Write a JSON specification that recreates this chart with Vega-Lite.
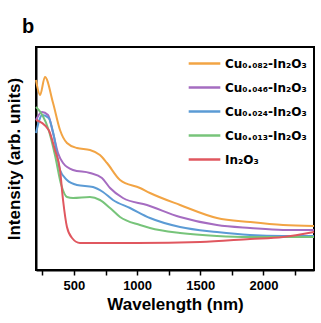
{
  "$schema": "https://vega.github.io/schema/vega-lite/v6.json",
  "autosize": "none",
  "width": 278,
  "height": 223,
  "padding": {"left": 36, "top": 47, "right": 7, "bottom": 53},
  "title": {"text": "b", "anchor": "start", "frame": "group", "dx": -14, "offset": 9, "fontSize": 20, "font": "Liberation Sans", "fontWeight": "bold", "color": "black"},
  "config": {
    "view": {"stroke": "black", "strokeWidth": 2},
    "font": "Liberation Sans",
    "axis": {"domainColor": "black", "domainWidth": 2, "tickColor": "black"}
  },
  "data": {"values": [
    {"s": "Cu₀.₀₈₂-In₂O₃", "wl": 200, "v": 190},
    {"s": "Cu₀.₀₈₂-In₂O₃", "wl": 232, "v": 175},
    {"s": "Cu₀.₀₈₂-In₂O₃", "wl": 271, "v": 193},
    {"s": "Cu₀.₀₈₂-In₂O₃", "wl": 335, "v": 167},
    {"s": "Cu₀.₀₈₂-In₂O₃", "wl": 390, "v": 140},
    {"s": "Cu₀.₀₈₂-In₂O₃", "wl": 445, "v": 127},
    {"s": "Cu₀.₀₈₂-In₂O₃", "wl": 524, "v": 122},
    {"s": "Cu₀.₀₈₂-In₂O₃", "wl": 627, "v": 120},
    {"s": "Cu₀.₀₈₂-In₂O₃", "wl": 706, "v": 115},
    {"s": "Cu₀.₀₈₂-In₂O₃", "wl": 762, "v": 107},
    {"s": "Cu₀.₀₈₂-In₂O₃", "wl": 865, "v": 90},
    {"s": "Cu₀.₀₈₂-In₂O₃", "wl": 1023, "v": 82},
    {"s": "Cu₀.₀₈₂-In₂O₃", "wl": 1102, "v": 77},
    {"s": "Cu₀.₀₈₂-In₂O₃", "wl": 1340, "v": 65},
    {"s": "Cu₀.₀₈₂-In₂O₃", "wl": 1632, "v": 52},
    {"s": "Cu₀.₀₈₂-In₂O₃", "wl": 1894, "v": 48},
    {"s": "Cu₀.₀₈₂-In₂O₃", "wl": 2155, "v": 45},
    {"s": "Cu₀.₀₈₂-In₂O₃", "wl": 2400, "v": 44},

    {"s": "Cu₀.₀₄₆-In₂O₃", "wl": 200, "v": 150},
    {"s": "Cu₀.₀₄₆-In₂O₃", "wl": 247, "v": 158},
    {"s": "Cu₀.₀₄₆-In₂O₃", "wl": 295, "v": 155},
    {"s": "Cu₀.₀₄₆-In₂O₃", "wl": 335, "v": 137},
    {"s": "Cu₀.₀₄₆-In₂O₃", "wl": 374, "v": 117},
    {"s": "Cu₀.₀₄₆-In₂O₃", "wl": 414, "v": 107},
    {"s": "Cu₀.₀₄₆-In₂O₃", "wl": 493, "v": 100},
    {"s": "Cu₀.₀₄₆-In₂O₃", "wl": 627, "v": 97},
    {"s": "Cu₀.₀₄₆-In₂O₃", "wl": 722, "v": 92},
    {"s": "Cu₀.₀₄₆-In₂O₃", "wl": 786, "v": 82},
    {"s": "Cu₀.₀₄₆-In₂O₃", "wl": 888, "v": 72},
    {"s": "Cu₀.₀₄₆-In₂O₃", "wl": 1078, "v": 65},
    {"s": "Cu₀.₀₄₆-In₂O₃", "wl": 1340, "v": 53},
    {"s": "Cu₀.₀₄₆-In₂O₃", "wl": 1632, "v": 45},
    {"s": "Cu₀.₀₄₆-In₂O₃", "wl": 1894, "v": 42},
    {"s": "Cu₀.₀₄₆-In₂O₃", "wl": 2155, "v": 40},
    {"s": "Cu₀.₀₄₆-In₂O₃", "wl": 2400, "v": 40},

    {"s": "Cu₀.₀₂₄-In₂O₃", "wl": 200, "v": 137},
    {"s": "Cu₀.₀₂₄-In₂O₃", "wl": 250, "v": 155},
    {"s": "Cu₀.₀₂₄-In₂O₃", "wl": 300, "v": 152},
    {"s": "Cu₀.₀₂₄-In₂O₃", "wl": 340, "v": 135},
    {"s": "Cu₀.₀₂₄-In₂O₃", "wl": 390, "v": 100},
    {"s": "Cu₀.₀₂₄-In₂O₃", "wl": 445, "v": 90},
    {"s": "Cu₀.₀₂₄-In₂O₃", "wl": 524, "v": 85},
    {"s": "Cu₀.₀₂₄-In₂O₃", "wl": 651, "v": 83},
    {"s": "Cu₀.₀₂₄-In₂O₃", "wl": 730, "v": 78},
    {"s": "Cu₀.₀₂₄-In₂O₃", "wl": 809, "v": 70},
    {"s": "Cu₀.₀₂₄-In₂O₃", "wl": 944, "v": 62},
    {"s": "Cu₀.₀₂₄-In₂O₃", "wl": 1102, "v": 52},
    {"s": "Cu₀.₀₂₄-In₂O₃", "wl": 1340, "v": 43},
    {"s": "Cu₀.₀₂₄-In₂O₃", "wl": 1632, "v": 38},
    {"s": "Cu₀.₀₂₄-In₂O₃", "wl": 1894, "v": 35},
    {"s": "Cu₀.₀₂₄-In₂O₃", "wl": 2155, "v": 34},
    {"s": "Cu₀.₀₂₄-In₂O₃", "wl": 2400, "v": 34},

    {"s": "Cu₀.₀₁₃-In₂O₃", "wl": 200, "v": 163},
    {"s": "Cu₀.₀₁₃-In₂O₃", "wl": 250, "v": 155},
    {"s": "Cu₀.₀₁₃-In₂O₃", "wl": 300, "v": 140},
    {"s": "Cu₀.₀₁₃-In₂O₃", "wl": 350, "v": 115},
    {"s": "Cu₀.₀₁₃-In₂O₃", "wl": 400, "v": 85},
    {"s": "Cu₀.₀₁₃-In₂O₃", "wl": 445, "v": 73},
    {"s": "Cu₀.₀₁₃-In₂O₃", "wl": 493, "v": 72},
    {"s": "Cu₀.₀₁₃-In₂O₃", "wl": 627, "v": 73},
    {"s": "Cu₀.₀₁₃-In₂O₃", "wl": 706, "v": 70},
    {"s": "Cu₀.₀₁₃-In₂O₃", "wl": 786, "v": 62},
    {"s": "Cu₀.₀₁₃-In₂O₃", "wl": 865, "v": 53},
    {"s": "Cu₀.₀₁₃-In₂O₃", "wl": 1023, "v": 45},
    {"s": "Cu₀.₀₁₃-In₂O₃", "wl": 1102, "v": 42},
    {"s": "Cu₀.₀₁₃-In₂O₃", "wl": 1340, "v": 37},
    {"s": "Cu₀.₀₁₃-In₂O₃", "wl": 1632, "v": 34},
    {"s": "Cu₀.₀₁₃-In₂O₃", "wl": 1894, "v": 33},
    {"s": "Cu₀.₀₁₃-In₂O₃", "wl": 2400, "v": 33},

    {"s": "In₂O₃", "wl": 200, "v": 150},
    {"s": "In₂O₃", "wl": 300, "v": 140},
    {"s": "In₂O₃", "wl": 350, "v": 120},
    {"s": "In₂O₃", "wl": 390, "v": 100},
    {"s": "In₂O₃", "wl": 414, "v": 70},
    {"s": "In₂O₃", "wl": 445, "v": 43},
    {"s": "In₂O₃", "wl": 485, "v": 32},
    {"s": "In₂O₃", "wl": 548, "v": 27},
    {"s": "In₂O₃", "wl": 700, "v": 27},
    {"s": "In₂O₃", "wl": 1000, "v": 27},
    {"s": "In₂O₃", "wl": 1500, "v": 28},
    {"s": "In₂O₃", "wl": 1894, "v": 31},
    {"s": "In₂O₃", "wl": 2155, "v": 33},
    {"s": "In₂O₃", "wl": 2400, "v": 38}
  ]},
  "mark": {"type": "line", "interpolate": "monotone", "strokeWidth": 2},
  "encoding": {
    "x": {
      "field": "wl", "type": "quantitative",
      "scale": {"domain": [200, 2400], "nice": false, "zero": false},
      "axis": {
        "title": "Wavelength (nm)",
        "titleFont": "Liberation Sans", "titleFontSize": 17, "titleFontWeight": "bold", "titleColor": "black", "titlePadding": 4,
        "values": [250, 500, 750, 1000, 1250, 1500, 1750, 2000, 2250],
        "labelExpr": "datum.value % 500 == 0 ? datum.value : ''",
        "labelFont": "Liberation Sans", "labelFontSize": 13, "labelFontWeight": "bold", "labelColor": "black", "labelPadding": 4,
        "grid": false, "domain": true,
        "tickColor": "black", "tickWidth": 1.5, "tickSize": 5
      }
    },
    "y": {
      "field": "v", "type": "quantitative",
      "scale": {"domain": [0, 223], "nice": false},
      "axis": {
        "title": "Intensity (arb. units)",
        "titleFont": "Liberation Sans", "titleFontSize": 17, "titleFontWeight": "bold", "titleColor": "black", "titlePadding": 13,
        "labels": false, "ticks": false, "grid": false, "domain": true
      }
    },
    "color": {
      "field": "s", "type": "nominal",
      "scale": {
        "domain": ["Cu₀.₀₈₂-In₂O₃", "Cu₀.₀₄₆-In₂O₃", "Cu₀.₀₂₄-In₂O₃", "Cu₀.₀₁₃-In₂O₃", "In₂O₃"],
        "range": ["#F2A444", "#A56CC1", "#5B9BD5", "#77C47A", "#E0575F"]
      },
      "legend": {
        "title": null, "orient": "none", "legendX": 151, "legendY": -1,
        "symbolType": "stroke", "symbolSize": 1000, "symbolStrokeWidth": 2.5,
        "labelFont": "DejaVu Sans", "labelFontSize": 12, "labelFontWeight": "bold", "labelColor": "black",
        "rowPadding": -16.5, "labelOffset": 3
      }
    }
  }
}
